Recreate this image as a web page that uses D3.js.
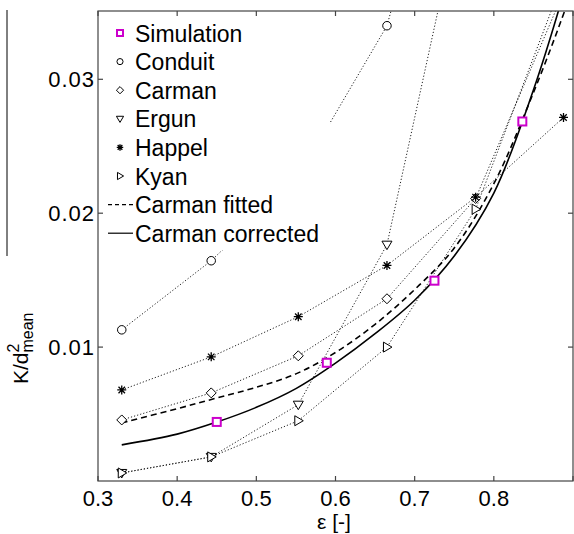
<!DOCTYPE html>
<meta charset="utf-8">
<style>
  body { margin: 0; background: #fff; }
  text { font-family: Arial, "Liberation Sans", sans-serif; }
</style>
<svg width="574" height="534"></svg>
<script src="https://d3js.org/d3.v7.min.js"></script>
<script>

// porosity values used by the model correlations
var eps = [0.33, 0.443, 0.553, 0.665, 0.777, 0.888];
var conduit = [0.01129, 0.01645, 0.0227, 0.0340, 0.058, 0.11];
var carman  = [0.00456, 0.00658, 0.00935, 0.01361, 0.0211, 0.0365];
var ergun   = [0.0006, 0.0018, 0.0057, 0.01765, 0.048, 0.15];
var happel  = [0.0068, 0.00927, 0.01227, 0.0161, 0.0212, 0.02715];
var kyan    = [0.0006, 0.0018, 0.0045, 0.0100, 0.0203, 0.0375];

// simulation results
var simEps = [0.45, 0.589, 0.725, 0.836];
var simK   = [0.00441, 0.00883, 0.01496, 0.02685];

// fitted / corrected Carman curves
var curveEps  = [0.33, 0.40, 0.45, 0.50, 0.55, 0.60, 0.65, 0.70, 0.75, 0.80, 0.85, 0.89, 0.90];
var fitted    = [0.00434, 0.0054, 0.0062, 0.0070, 0.0080, 0.0096, 0.0117, 0.0143, 0.0174, 0.0222, 0.0290, 0.0352, 0.037];
var corrected = [0.0027, 0.0035, 0.0044, 0.0055, 0.0069, 0.0088, 0.0110, 0.0135, 0.0168, 0.0215, 0.0292, 0.0368, 0.039];

var xTicks = [0.3, 0.4, 0.5, 0.6, 0.7, 0.8, 0.9];
var yTicks = [0.01, 0.02, 0.03];

var svg = d3.select("svg");
var pl = 98, pr = 573, pt = 11, pb = 481;

var x = d3.scaleLinear().domain([0.3, 0.9]).range([pl, pr]);
var y = d3.scaleLinear().domain([0, 0.0351]).range([pb, pt]);

svg.append("defs").append("clipPath").attr("id", "plot")
  .append("rect").attr("x", pl).attr("y", pt)
  .attr("width", pr - pl).attr("height", pb - pt);

var plot = svg.append("g").attr("clip-path", "url(#plot)");

var line = d3.line()
  .x(function(d) { return x(d[0]); })
  .y(function(d) { return y(d[1]); });
var smooth = d3.line()
  .x(function(d) { return x(d[0]); })
  .y(function(d) { return y(d[1]); })
  .curve(d3.curveCatmullRom);

// marker shapes
function marker(g, type, s) {
  if (type == "circle") {
    g.append("circle").attr("r", s * 0.85).attr("fill", "#fff").attr("stroke", "#000");
  } else if (type == "diamond") {
    g.append("path").attr("d", "M0," + (-s) + "L" + s + ",0L0," + s + "L" + (-s) + ",0Z")
      .attr("fill", "#fff").attr("stroke", "#000");
  } else if (type == "down") {
    g.append("path").attr("d", "M" + (-s) + "," + (-s * 0.7) + "L" + s + "," + (-s * 0.7) + "L0," + s + "Z")
      .attr("fill", "#fff").attr("stroke", "#000");
  } else if (type == "right") {
    g.append("path").attr("d", "M" + (-s * 0.7) + "," + (-s) + "L" + (-s * 0.7) + "," + s + "L" + s + ",0Z")
      .attr("fill", "#fff").attr("stroke", "#000");
  } else if (type == "star") {
    var a = s * 0.9, b = s * 0.65;
    g.append("path")
      .attr("d", "M0," + (-a) + "V" + a + "M" + (-a) + ",0H" + a +
        "M" + (-b) + "," + (-b) + "L" + b + "," + b + "M" + (-b) + "," + b + "L" + b + "," + (-b))
      .attr("stroke", "#000").attr("stroke-width", 1.3);
  } else if (type == "square") {
    g.append("rect").attr("x", -s).attr("y", -s).attr("width", 2 * s).attr("height", 2 * s)
      .attr("fill", "#fff").attr("stroke", "#cc00cc").attr("stroke-width", 2);
  }
}

var models = [
  { name: "Conduit", vals: conduit, type: "circle" },
  { name: "Carman", vals: carman, type: "diamond" },
  { name: "Ergun", vals: ergun, type: "down" },
  { name: "Happel", vals: happel, type: "star" },
  { name: "Kyan", vals: kyan, type: "right" }
];

models.forEach(function(m) {
  var pts = eps.map(function(e, i) { return [e, m.vals[i]]; });
  plot.append("path").attr("d", line(pts))
    .attr("fill", "none").attr("stroke", "#222").attr("stroke-width", 1)
    .attr("stroke-dasharray", "1.2,2");
});

plot.append("path")
  .attr("d", smooth(curveEps.map(function(e, i) { return [e, fitted[i]]; })))
  .attr("fill", "none").attr("stroke", "#000").attr("stroke-width", 1.6)
  .attr("stroke-dasharray", "6,4");
plot.append("path")
  .attr("d", smooth(curveEps.map(function(e, i) { return [e, corrected[i]]; })))
  .attr("fill", "none").attr("stroke", "#000").attr("stroke-width", 1.6);

models.forEach(function(m) {
  eps.forEach(function(e, i) {
    var v = m.vals[i];
    if (v > 0.0351) return;
    marker(plot.append("g").attr("transform", "translate(" + x(e) + "," + y(v) + ")"), m.type, 5);
  });
});

simEps.forEach(function(e, i) {
  marker(plot.append("g").attr("transform", "translate(" + x(e) + "," + y(simK[i]) + ")"), "square", 4);
});

// legend (opaque box, no border)
var legend = svg.append("g");
legend.append("rect").attr("x", pl + 1).attr("y", pt + 1)
  .attr("width", 231).attr("height", 238).attr("fill", "#fff");

var legendItems = [
  { label: "Simulation", type: "square" },
  { label: "Conduit", type: "circle" },
  { label: "Carman", type: "diamond" },
  { label: "Ergun", type: "down" },
  { label: "Happel", type: "star" },
  { label: "Kyan", type: "right" },
  { label: "Carman fitted", type: "dash" },
  { label: "Carman corrected", type: "solid" }
];

legendItems.forEach(function(it, i) {
  var cy = 33 + i * 28.6;
  var g = legend.append("g").attr("transform", "translate(120," + cy + ")");
  if (it.type == "dash") {
    g.append("line").attr("x1", -12).attr("x2", 13).attr("stroke", "#000")
      .attr("stroke-dasharray", "4,3").attr("stroke-width", 1.2);
  } else if (it.type == "solid") {
    g.append("line").attr("x1", -12).attr("x2", 13).attr("stroke", "#000").attr("stroke-width", 1.2);
  } else if (it.type == "square") {
    marker(g, "square", 3);
  } else {
    marker(g, it.type, 3.6);
  }
  legend.append("text").attr("x", 135).attr("y", cy + 8.5)
    .attr("font-size", 23).text(it.label);
});

// axes box
var frame = svg.append("g").attr("stroke", "#444").attr("stroke-width", 1.2).attr("fill", "none");
frame.append("rect").attr("x", pl).attr("y", pt).attr("width", pr - pl).attr("height", pb - pt);

xTicks.forEach(function(t) {
  frame.append("line").attr("x1", x(t)).attr("x2", x(t)).attr("y1", pb).attr("y2", pb - 5);
  frame.append("line").attr("x1", x(t)).attr("x2", x(t)).attr("y1", pt).attr("y2", pt + 5);
  if (t < 0.85) {
    svg.append("text").attr("x", x(t)).attr("y", 506).attr("text-anchor", "middle")
      .attr("font-size", 22).text(d3.format(".1f")(t));
  }
});
yTicks.forEach(function(t) {
  frame.append("line").attr("x1", pl).attr("x2", pl + 5).attr("y1", y(t)).attr("y2", y(t));
  frame.append("line").attr("x1", pr).attr("x2", pr - 5).attr("y1", y(t)).attr("y2", y(t));
  svg.append("text").attr("x", 95).attr("y", y(t) + 8).attr("text-anchor", "end")
    .attr("font-size", 22).attr("letter-spacing", 1).text(d3.format(".2f")(t));
});

// axis labels
svg.append("text").attr("x", 334).attr("y", 529).attr("text-anchor", "middle")
  .attr("font-size", 21).text("ε [-]");

var yl = svg.append("text").attr("transform", "translate(28,384) rotate(-90)")
  .attr("font-size", 21);
yl.append("tspan").text("K/d");
yl.append("tspan").attr("font-size", 16).attr("dy", -9).text("2");
yl.append("tspan").attr("font-size", 16).attr("dx", -9).attr("dy", 14).text("mean");

svg.append("line").attr("x1", 7).attr("x2", 7).attr("y1", 10).attr("y2", 256)
  .attr("stroke", "#000").attr("stroke-width", 1);

</script>
